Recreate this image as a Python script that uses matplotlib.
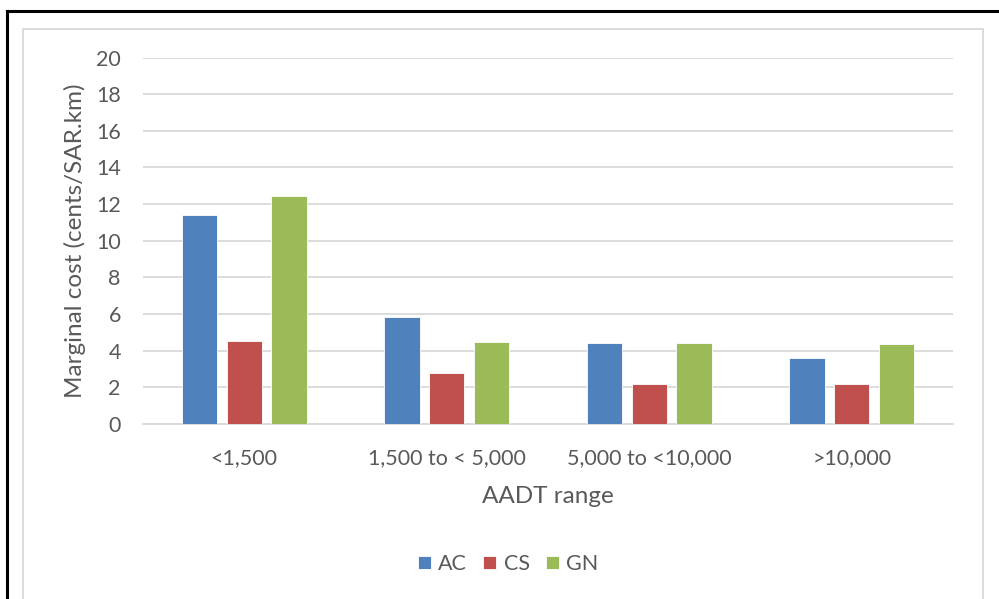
import matplotlib.pyplot as plt
from matplotlib.patches import Rectangle
from matplotlib.lines import Line2D
import numpy as np

plt.rcParams['font.family'] = ['Lato', 'DejaVu Sans']

# AADT ranges and marginal cost per surface type
categories = ['<1,500', '1,500 to < 5,000', '5,000 to <10,000', '>10,000']
ac_cost = [11.38, 5.84, 4.41, 3.62]
cs_cost = [4.52, 2.77, 2.18, 2.18]
gn_cost = [12.45, 4.46, 4.44, 4.35]

series = [('AC', ac_cost, '#4F81BD'),
          ('CS', cs_cost, '#C0504D'),
          ('GN', gn_cost, '#9BBB59')]

text_col = '#595959'
grid_col = '#D9D9D9'

fig = plt.figure(figsize=(9.99, 5.99), dpi=100)
W, H = 999, 599

# outer black frame (top and left edges visible) and grey chart-area frame
fig.add_artist(Line2D([7 / W, 1], [1 - 10.5 / H, 1 - 10.5 / H], transform=fig.transFigure,
                      color='black', lw=2.2))
fig.add_artist(Line2D([7 / W, 7 / W], [0, 1 - 10.5 / H], transform=fig.transFigure,
                      color='black', lw=2.2))
fig.add_artist(Rectangle((22.5 / W, -0.05), (982.5 - 22.5) / W, 1.05 - 29 / H,
                         transform=fig.transFigure, fill=False, edgecolor=grid_col, lw=1.3))

ax = fig.add_axes([143 / W, 1 - 424 / H, (953 - 143) / W, (424 - 57.5) / H])

x = np.arange(len(categories))
step = 0.22
width = 0.175
handles = []
for i, (name, vals, col) in enumerate(series):
    b = ax.bar(x + (i - 1) * step, vals, width, color=col, edgecolor='white',
               linewidth=0.6, label=name, zorder=3)
    handles.append(b)

ax.set_xlim(-0.5, len(categories) - 0.5)
ax.set_ylim(0, 20)
ax.set_yticks(range(0, 21, 2))
ax.yaxis.grid(True, color=grid_col, lw=1.3, zorder=0)
for s in ['top', 'right', 'left']:
    ax.spines[s].set_visible(False)
ax.spines['bottom'].set_color(grid_col)
ax.spines['bottom'].set_linewidth(1.3)
ax.tick_params(axis='both', length=0, colors=text_col, labelsize=15.5)
ax.tick_params(axis='y', pad=16)
ax.tick_params(axis='x', pad=17)
ax.set_xticks(x)
ax.set_xticklabels(categories)

ax.set_ylabel('Marginal cost (cents/SAR.km)', fontsize=17.5, color=text_col)
ax.yaxis.set_label_coords((86 - 143) / 810, 0.5)
ax.set_xlabel('AADT range', fontsize=17.5, color=text_col)
ax.xaxis.set_label_coords(0.5, -(486 - 424) / 366.5)

leg = fig.legend(handles=handles, labels=[s[0] for s in series], loc='center',
                 bbox_to_anchor=(508 / W, 1 - 564 / H), ncol=3, frameon=False,
                 fontsize=15.5, handlelength=0.6, handleheight=0.6,
                 handletextpad=0.35, columnspacing=0.75)
for t in leg.get_texts():
    t.set_color(text_col)

fig.savefig('out.png', dpi=100)
